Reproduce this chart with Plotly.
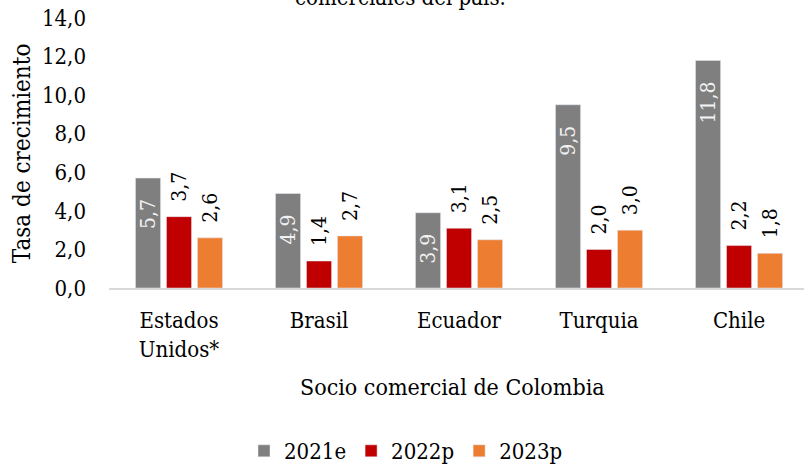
import plotly.graph_objects as go

categories = ["Estados<br>Unidos*", "Brasil", "Ecuador", "Turquia", "Chile"]
series_names = ["2021e", "2022p", "2023p"]
v2021e = [5.7, 4.9, 3.9, 9.5, 11.8]
v2022p = [3.7, 1.4, 3.1, 2.0, 2.2]
v2023p = [2.6, 2.7, 2.5, 3.0, 1.8]
y_ticks = [0, 2, 4, 6, 8, 10, 12, 14]

FONT = "DejaVu Serif Condensed, DejaVu Serif, Liberation Serif, serif"
NB = "\u00a0"

fig = go.Figure()
fig.add_trace(go.Bar(
    name=series_names[0], x=categories, y=v2021e, marker_color="#7f7f7f",
    texttemplate="%{y:.1f}" + NB * 3, textposition="inside", insidetextanchor="end",
    textangle=-90, constraintext="none",
    insidetextfont=dict(family=FONT, size=21, color="#f2f2f2"),
))
fig.add_trace(go.Bar(
    name=series_names[1], x=categories, y=v2022p, marker_color="#c00000",
    texttemplate=NB * 2 + "%{y:.1f}", textposition="outside",
    textangle=-90, constraintext="none", cliponaxis=False,
    outsidetextfont=dict(family=FONT, size=21, color="#000000"),
))
fig.add_trace(go.Bar(
    name=series_names[2], x=categories, y=v2023p, marker_color="#ed7d31",
    texttemplate=NB * 2 + "%{y:.1f}", textposition="outside",
    textangle=-90, constraintext="none", cliponaxis=False,
    outsidetextfont=dict(family=FONT, size=21, color="#000000"),
))

fig.update_layout(
    width=804, height=466,
    margin=dict(l=109, r=0, t=18, b=178, autoexpand=False),
    paper_bgcolor="white", plot_bgcolor="white",
    separators=",.",
    font=dict(family=FONT, size=22, color="#000000"),
    barmode="group", bargap=0.336, bargroupgap=0.19,
    showlegend=True,
    legend=dict(orientation="h", xref="container", yref="container",
                x=0.505, xanchor="center", y=1 - 451 / 466, yanchor="middle",
                font=dict(family=FONT, size=22, color="#000000"), traceorder="normal",
                itemwidth=30),
    xaxis=dict(range=[-0.5, 4.464], showline=True, linecolor="#d9d9d9", linewidth=2,
               ticks="", showgrid=False, zeroline=False, ticklabelstandoff=12,
               automargin=False,
               tickfont=dict(family=FONT, size=22, color="#000000")),
    yaxis=dict(range=[0, 14], tickvals=y_ticks, tickformat=".1f", showgrid=False,
               zeroline=False, showline=False, ticks="", ticklabelstandoff=22,
               automargin=False,
               tickfont=dict(family=FONT, size=22, color="#000000")),
    annotations=[
        dict(text="comerciales del país.", xref="paper", yref="paper",
             x=0.42, y=(288 + 2) / 270, xanchor="center", yanchor="middle",
             showarrow=False, font=dict(family=FONT, size=22, color="#000000")),
        dict(text="Tasa de crecimiento", xref="paper", yref="paper",
             x=-0.125, y=0.50, xanchor="center", yanchor="middle", textangle=-90,
             showarrow=False, font=dict(family=FONT, size=24, color="#000000")),
        dict(text="Socio comercial de Colombia", xref="paper", yref="paper",
             x=0.494, y=-0.367, xanchor="center", yanchor="middle",
             showarrow=False, font=dict(family=FONT, size=23, color="#000000")),
    ],
)

fig.write_html("out.html", config={"displayModeBar": False},
               post_script="document.body.style.margin='0';")
